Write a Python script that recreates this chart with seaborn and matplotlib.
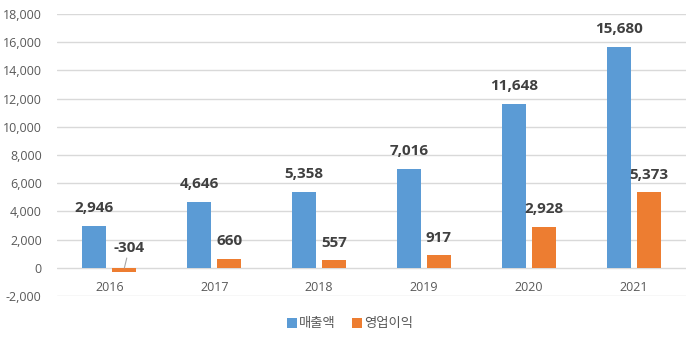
import matplotlib
matplotlib.use("Agg")
import matplotlib.pyplot as plt
from matplotlib.lines import Line2D
import seaborn as sns
import pandas as pd

years = ["2016", "2017", "2018", "2019", "2020", "2021"]
revenue = [2946, 4646, 5358, 7016, 11648, 15680]
operating_profit = [-304, 660, 557, 917, 2928, 5373]
series_names = ["매출액", "영업이익"]
colors = ["#5B9BD5", "#ED7D31"]
yticks = list(range(-2000, 18001, 2000))

sns.set_theme(style="white")
plt.rcParams["font.family"] = ["Open Sans", "Noto Sans CJK KR", "DejaVu Sans"]

df = pd.DataFrame({
    "year": years * 2,
    "value": revenue + operating_profit,
    "series": [series_names[0]] * len(years) + [series_names[1]] * len(years),
})

fig = plt.figure(figsize=(7.0, 3.38), dpi=100)
ax = fig.add_axes([0.0814, 0.124, 0.8986, 0.8346])

sns.barplot(data=df, x="year", y="value", hue="series", order=years,
            hue_order=series_names, palette=colors, width=0.573, gap=0.2,
            linewidth=0, saturation=1, legend=False, ax=ax)

ax.set_ylim(-2000, 18000)
ax.set_xlim(-0.5, len(years) - 0.5)
ax.set_yticks(yticks)
ax.set_yticklabels([f"{v:,}" for v in yticks], color="#595959", fontsize=9)
ax.tick_params(axis="y", length=0, pad=11)
ax.tick_params(axis="x", length=0, labelbottom=False)
ax.set_xlabel("")
ax.set_ylabel("")
for s in ax.spines.values():
    s.set_visible(False)
ax.grid(axis="y", color="#D9D9D9", linewidth=1)
ax.set_axisbelow(True)

# category labels sit just under the zero line
for i, y in enumerate(years):
    ax.annotate(y, xy=(i, 0), xytext=(0, -14.4), textcoords="offset points",
                ha="center", va="center", fontsize=9, color="#595959")

label_kw = dict(textcoords="offset points", ha="center", va="center",
                fontsize=11, fontweight="bold", color="#404040")
off = 0.143
for i in range(len(years)):
    ax.annotate(f"{revenue[i]:,}", xy=(i - off, revenue[i]), xytext=(0, 13), **label_kw)
    v = operating_profit[i]
    if v >= 0:
        ax.annotate(f"{v:,}", xy=(i + off, v), xytext=(0, 12.5), **label_kw)
    else:
        ax.annotate(f"{v:,}", xy=(i + off, 0), xytext=(3.5, 14.5),
                    arrowprops=dict(arrowstyle="-", color="#A6A6A6", lw=0.8,
                                    shrinkA=8, shrinkB=0),
                    **label_kw)

handles = [Line2D([], [], marker="s", linestyle="none", markersize=7,
                  markerfacecolor=c, markeredgewidth=0) for c in colors]
fig.legend(handles, series_names, loc="center", bbox_to_anchor=(0.5, 1 - 324 / 338),
           ncol=2, frameon=False, fontsize=9.6, labelcolor="#595959",
           handletextpad=0.1, columnspacing=1.2, handlelength=0.8)

fig.savefig("out.png", dpi=100)
